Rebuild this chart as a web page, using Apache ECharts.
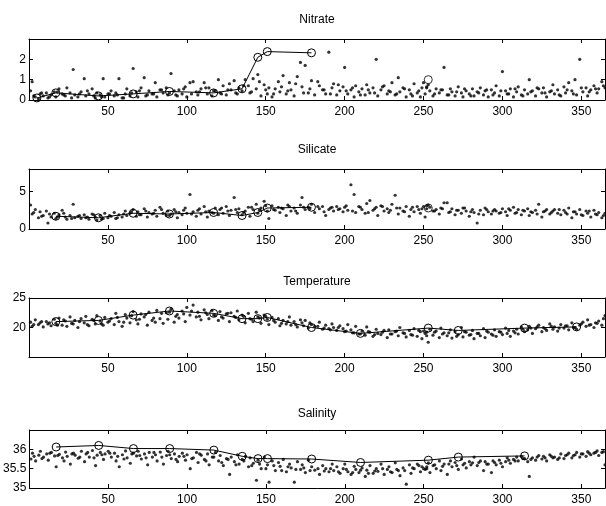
<!DOCTYPE html>
<html>
<head>
<meta charset="utf-8">
<script src="https://cdn.jsdelivr.net/npm/echarts@6/dist/echarts.min.js"></script>
<style>html,body{margin:0;padding:0;background:#fff}#c{width:606px;height:506px}</style>
</head>
<body>
<div id="c"></div>
<script>
// ---- data ----
const panelTitles = ['Nitrate', 'Silicate', 'Temperature', 'Salinity'];
const xTicks = [50, 100, 150, 200, 250, 300, 350];

// sampling days of the underway measurements (shared by all four panels)
const sampleDays = [
  1,2,4,6,7,9,11,12,14,16,
  17,19,21,23,24,26,28,29,31,33,
  35,36,38,40,42,43,45,47,48,50,
  52,54,55,57,59,61,62,64,66,68,
  69,71,73,75,76,78,80,81,83,85,
  87,88,90,92,94,95,97,99,100,102,
  104,106,107,109,111,113,114,116,118,120,
  121,123,125,127,128,130,132,133,135,137,
  139,140,142,144,145,147,149,151,152,154,
  156,158,159,161,163,165,166,168,170,172,
  173,175,177,179,181,184,186,188,190,192,
  193,195,197,199,200,202,204,206,207,209,
  211,213,214,216,218,220,221,223,225,227,
  228,230,232,234,235,237,239,241,242,244,
  246,248,249,251,253,254,256,258,260,261,
  263,265,267,268,270,272,274,275,277,279,
  281,282,284,286,288,289,291,293,295,296,
  298,300,302,303,305,307,309,310,312,314,
  316,317,319,321,323,325,326,328,330,332,
  333,335,337,339,340,342,344,346,347,349,
  351,353,354,356,358,360,361,363,365
];
// additional samples (second sampling pass)
const sampleDays2 = [
  3,8,13,18,22,27,32,37,41,46,
  51,56,60,65,70,74,79,84,89,93,
  98,103,108,112,117,122,126,131,136,141,
  146,150,155,160,164,169,174,178,183,187,
  191,196,201,205,210,215,219,224,229,233,
  238,243,247,252,257,262,266,271,276,280,
  285,290,294,299,304,308,313,318,322,327,
  331,336,341,345,350,355,359,364,250,252
];

const nitrateDots = [
  0.45,0.9,0.15,0.05,0.3,0.2,0.35,0.1,0.25,0.4,
  0.15,0.55,0.3,0.2,0.6,0.35,1.5,0.25,0.15,0.4,
  1.05,0.2,0.3,0.55,0.1,0.35,0.25,1.05,0.15,0.3,
  0.45,0.2,0.35,1.05,0.1,0.3,0.55,0.2,1.55,0.4,
  0.15,0.6,1.1,0.25,0.45,0.3,0.85,0.15,0.5,0.35,
  0.6,0.25,1.3,0.45,0.2,0.5,0.3,0.65,0.15,0.85,
  0.9,0.4,0.25,0.55,0.85,0.3,0.6,0.2,0.45,1.0,
  0.35,0.7,0.25,0.8,0.5,0.95,0.3,0.6,0.45,1.0,
  0.7,0.35,1.05,0.55,1.25,0.2,0.75,0.3,0.6,0.15,
  0.55,0.9,0.4,1.2,0.3,0.85,0.5,0.2,1.15,1.85,
  0.65,1.7,0.35,0.95,0.25,0.7,0.5,0.3,2.35,0.6,
  0.8,0.25,0.45,0.65,1.6,0.3,0.5,0.15,0.7,0.4,
  0.55,0.25,0.75,0.35,0.6,2.0,0.2,0.5,0.7,0.3,
  0.45,0.85,0.25,1.1,0.4,0.6,0.15,0.5,0.3,0.8,
  0.35,0.15,0.6,0.3,0.75,0.45,0.2,0.55,0.35,0.5,
  1.6,0.25,0.55,0.4,0.2,0.65,0.35,0.15,0.45,0.3,
  0.55,0.2,0.4,0.6,0.25,0.45,0.15,0.5,0.35,0.7,
  0.2,1.4,0.45,0.3,0.55,0.15,0.4,0.65,0.25,0.5,
  0.3,1.0,0.45,0.2,0.55,0.35,0.6,0.15,0.4,0.75,
  0.3,0.5,0.2,0.65,0.35,0.85,0.45,1.0,0.25,2.0,
  0.4,0.6,0.2,0.5,0.7,0.35,0.55,0.9,0.6
];
const nitrateDots2 = [
  0.2,0.35,0.15,0.4,0.25,0.1,0.3,0.45,0.2,0.15,
  0.3,0.25,0.1,0.35,0.45,0.2,0.3,0.5,0.35,0.25,
  0.55,0.3,0.4,0.6,0.45,0.3,0.5,0.35,0.7,0.4,
  0.9,0.5,0.3,0.65,0.45,0.8,0.35,0.55,0.9,0.5,
  0.3,0.75,0.45,0.6,0.25,0.5,0.35,0.65,0.4,0.3,
  0.55,0.2,0.45,0.65,0.3,0.5,0.25,0.4,0.55,0.2,
  0.35,0.5,0.25,0.45,0.3,0.55,0.2,0.4,0.6,0.35,
  0.45,0.25,0.5,0.3,0.6,0.4,0.55,0.7,0.85,0.6
];

const silicateDots = [
  3.2,2.0,2.6,1.5,2.3,1.8,2.4,0.8,1.6,2.1,
  1.4,1.9,2.5,1.6,1.3,1.8,3.3,1.5,1.7,1.4,
  1.9,1.5,1.3,2.0,1.6,1.2,1.8,1.4,2.1,1.5,
  1.7,2.2,1.4,1.9,1.6,2.4,1.8,2.1,2.6,1.7,
  2.3,1.9,2.7,1.6,2.2,2.0,2.5,1.7,2.9,2.1,
  1.8,2.4,2.0,2.6,1.5,2.2,1.9,2.8,2.1,4.6,
  2.3,1.7,2.5,2.0,3.0,1.6,2.4,2.2,2.8,1.9,
  2.6,2.1,3.0,1.8,2.5,4.2,2.2,2.7,1.9,2.4,
  2.9,1.7,2.6,3.3,2.1,2.8,3.7,2.4,1.4,3.1,
  2.5,2.9,2.2,2.7,1.8,3.0,2.4,2.8,2.1,3.2,
  4.2,2.6,2.9,3.3,2.2,2.7,3.0,1.8,2.6,2.9,
  2.4,3.0,2.7,2.3,2.9,2.5,5.9,4.6,2.2,3.0,
  2.6,2.1,3.4,3.8,2.5,2.9,1.8,3.1,2.4,2.7,
  2.2,3.3,4.5,2.0,2.8,2.4,3.0,1.7,2.6,2.3,
  3.0,2.1,2.7,1.6,3.2,2.9,2.4,2.6,2.0,2.8,
  3.5,3.5,2.3,2.7,1.9,2.5,2.1,2.8,2.4,1.7,
  2.6,2.2,0.8,2.5,1.9,2.8,2.3,2.0,2.6,2.4,
  2.1,2.7,2.3,1.8,2.5,2.9,2.2,2.6,1.9,2.4,
  2.7,1.8,2.2,2.5,3.3,1.6,2.3,2.6,2.0,2.4,
  2.6,2.1,1.9,2.5,2.2,2.8,1.5,2.3,2.0,2.6,
  1.8,2.4,2.1,1.6,2.5,1.9,2.2,1.5,2.1
];
const silicateDots2 = [
  2.2,1.7,2.0,1.6,2.1,1.4,1.8,1.6,1.9,1.3,
  1.8,1.5,2.0,2.3,1.9,2.4,2.1,2.6,1.8,2.3,
  2.5,2.0,2.7,2.3,2.1,2.8,2.4,2.6,2.2,2.9,
  2.5,3.1,2.6,2.8,3.2,2.4,2.9,2.7,3.0,2.3,
  2.8,2.6,3.1,2.4,2.9,2.2,2.7,3.0,2.5,2.8,
  2.3,2.9,2.6,3.1,2.4,2.7,2.2,2.5,2.8,2.3,
  2.0,2.6,2.4,2.2,2.7,2.1,2.5,2.3,2.0,2.4,
  2.2,2.6,2.0,2.3,1.9,2.4,2.0,1.8,3.0,2.7
];

const temperatureDots = [
  20.9,20.2,21.3,20.5,20.8,20.1,21.0,20.6,20.3,21.4,
  20.7,21.6,20.4,21.1,20.2,21.8,20.6,21.2,20.0,21.5,
  20.8,21.9,20.3,21.4,20.6,22.0,21.1,20.4,21.7,20.9,
  21.5,20.5,22.4,21.0,20.2,22.2,21.6,20.8,22.7,21.3,
  20.6,22.3,21.8,20.4,22.6,21.2,20.9,22.9,21.5,20.7,
  22.5,21.4,23.1,20.9,22.2,21.6,22.8,21.0,23.4,22.1,
  23.8,21.8,22.6,21.3,23.0,22.2,21.5,22.9,22.0,21.2,
  22.7,21.6,22.3,21.0,22.5,21.9,22.8,21.3,22.1,20.8,
  22.4,21.5,21.0,22.6,21.8,20.7,22.1,21.4,20.5,21.7,
  20.9,21.5,20.3,21.2,20.6,21.8,20.4,21.0,20.1,21.3,
  20.8,21.2,19.9,20.5,20.2,20.9,19.7,20.4,19.8,20.6,
  20.0,19.5,20.3,19.8,19.3,20.5,19.6,19.1,20.2,18.9,
  19.4,18.7,20.1,19.2,18.5,19.7,19.0,18.8,19.5,18.3,
  19.6,18.9,19.3,18.6,20.0,19.1,18.4,19.5,18.8,19.8,
  18.5,19.3,18.1,19.0,17.5,19.7,18.7,19.4,18.3,19.9,
  19.1,18.6,19.6,18.2,19.3,18.8,20.0,18.4,19.2,18.7,
  19.5,18.1,19.0,18.6,19.8,18.3,19.2,18.9,19.6,18.5,
  19.3,18.8,19.9,19.0,18.5,19.4,19.7,18.9,20.1,19.3,
  19.6,20.2,19.0,19.8,20.4,19.3,20.0,19.5,20.6,19.7,
  20.1,19.4,20.5,19.9,20.3,19.6,20.8,20.0,19.7,20.4,
  20.9,20.2,21.3,20.5,20.0,20.7,21.1,20.4,22.0
];
const temperatureDots2 = [
  20.5,21.0,20.8,20.4,21.3,20.7,21.0,20.5,21.2,20.6,
  21.1,21.7,20.9,22.0,21.4,22.2,21.6,22.4,22.6,21.9,
  22.3,22.8,21.9,22.5,22.1,21.8,22.4,21.7,21.9,21.4,
  21.6,21.9,21.2,20.7,21.0,20.5,20.3,20.8,20.2,19.9,
  19.6,20.0,19.4,19.1,18.9,19.3,18.8,19.2,18.9,19.4,
  19.0,18.7,19.5,18.6,19.2,18.9,19.1,18.5,19.3,18.8,
  19.0,19.4,18.7,19.2,19.5,19.1,19.7,19.9,20.1,19.8,
  20.2,19.9,20.3,20.0,20.6,20.4,20.8,21.5,19.4,19.2
];

const salinityDots = [
  35.75,35.90,35.70,35.85,35.95,35.80,35.88,35.72,35.92,35.83,
  35.55,35.87,35.78,35.93,35.82,35.62,35.90,35.85,35.77,35.95,
  35.68,35.88,35.80,35.97,35.58,35.85,35.92,35.74,35.88,35.95,
  35.80,35.90,35.70,35.55,35.86,35.96,35.78,35.64,35.90,35.83,
  35.95,35.75,35.88,35.60,35.92,35.80,35.86,35.70,35.93,35.62,
  35.84,35.95,35.76,35.88,35.68,35.82,35.90,35.72,35.86,35.50,
  35.78,35.92,35.66,35.85,35.74,35.88,35.60,35.80,35.92,35.70,
  35.84,35.58,35.76,35.35,35.80,35.68,35.86,35.62,35.74,35.82,
  35.55,35.78,35.64,35.20,35.72,35.50,35.80,35.60,35.15,35.70,
  35.45,35.66,35.56,35.74,35.42,35.62,35.52,35.15,35.68,35.48,
  35.60,35.40,35.72,35.55,35.46,35.35,35.58,35.50,35.42,35.62,
  35.45,35.55,35.38,35.50,35.62,35.42,35.35,35.56,35.48,35.40,
  35.52,35.30,35.46,35.58,35.38,35.50,35.43,35.62,35.35,35.48,
  35.55,35.40,35.65,35.45,35.32,35.52,35.10,35.60,35.38,35.50,
  35.62,35.42,35.55,35.48,35.65,35.40,35.58,35.50,35.70,35.45,
  35.62,35.35,35.70,35.55,35.66,35.48,35.75,35.60,35.52,35.68,
  35.65,35.80,35.58,35.70,35.45,35.68,35.62,35.40,35.66,35.60,
  35.72,35.55,35.68,35.78,35.64,35.74,35.80,35.70,35.82,35.76,
  35.68,35.30,35.78,35.72,35.84,35.75,35.82,35.70,35.86,35.78,
  35.80,35.74,35.88,35.76,35.84,35.90,35.78,35.86,35.92,35.80,
  35.88,35.82,35.94,35.86,35.90,35.96,35.84,35.92,35.60
];
const salinityDots2 = [
  35.82,35.76,35.90,35.84,35.70,35.88,35.80,35.92,35.78,35.86,
  35.90,35.82,35.75,35.88,35.84,35.78,35.92,35.80,35.86,35.74,
  35.82,35.76,35.88,35.70,35.80,35.66,35.74,35.60,35.70,35.58,
  35.62,35.50,35.58,35.45,35.55,35.48,35.52,35.45,35.50,35.44,
  35.50,35.42,35.48,35.40,35.46,35.38,35.44,35.50,35.42,35.48,
  35.45,35.52,35.58,35.50,35.60,35.56,35.62,35.58,35.64,35.60,
  35.66,35.62,35.70,35.64,35.72,35.70,35.76,35.74,35.80,35.78,
  35.82,35.78,35.86,35.84,35.88,35.90,35.92,35.94,35.50,35.55
];

// cruise station means (open circles joined by a line)
const nitrateCruiseDays = [5,17,44,66,89,117,135,145,151,179];
const nitrateCruise     = [0.1,0.35,0.2,0.3,0.42,0.35,0.55,2.1,2.38,2.32];
const nitrateExtraDays  = [253];
const nitrateExtra      = [1.0];

const silicateCruiseDays = [17,44,66,89,117,135,145,151,179];
const silicateCruise     = [1.7,1.5,2.1,2.0,2.2,1.8,2.2,2.8,2.9];
const silicateExtraDays  = [253];
const silicateExtra      = [2.8];

const temperatureCruiseDays = [17,44,66,89,117,135,145,151,179,210,253,272,314,347];
const temperatureCruise     = [21.0,21.2,22.1,22.8,22.4,21.5,21.5,21.7,20.0,19.0,19.9,19.5,19.9,20.1];

const salinityCruiseDays = [17,44,66,89,117,135,145,151,179,210,253,272,314];
const salinityCruise     = [36.06,36.1,36.02,36.02,35.98,35.82,35.76,35.76,35.75,35.66,35.72,35.8,35.83];

// y-axis settings per panel
const yRanges = [
  {min: 0, max: 3, interval: 1},
  {min: 0, max: 8, interval: 5},
  {min: 15, max: 25, interval: 5},
  {min: 35, max: 36.5, interval: 0.5}
];
const yHideMin = [false, false, true, false];
const yHideMax = [true, true, false, true];

// ---- layout ----
const gridTops = [39, 169, 298, 430];
const gridHeights = [61, 60, 59, 60];
const titleY = [20, 150, 282, 414];
const LEFT = 29, RIGHT = 1;
const FONT = 'Liberation Sans';

const pair = (xs, ys) => xs.map((x, i) => [x, ys[i]]);
const dotsByPanel = [
  pair(sampleDays, nitrateDots).concat(pair(sampleDays2, nitrateDots2)),
  pair(sampleDays, silicateDots).concat(pair(sampleDays2, silicateDots2)),
  pair(sampleDays, temperatureDots).concat(pair(sampleDays2, temperatureDots2)),
  pair(sampleDays, salinityDots).concat(pair(sampleDays2, salinityDots2))
];
const linesByPanel = [
  pair(nitrateCruiseDays, nitrateCruise),
  pair(silicateCruiseDays, silicateCruise),
  pair(temperatureCruiseDays, temperatureCruise),
  pair(salinityCruiseDays, salinityCruise)
];
const extrasByPanel = [
  pair(nitrateExtraDays, nitrateExtra),
  pair(silicateExtraDays, silicateExtra),
  [], []
];

const grids = [], xAxes = [], yAxes = [], series = [], graphics = [];

for (let p = 0; p < 4; p++) {
  grids.push({left: LEFT, right: RIGHT, top: gridTops[p], height: gridHeights[p], containLabel: false});
  const axisLine = {show: true, onZero: false, lineStyle: {color: '#000', width: 1}};
  const tick = {show: true, inside: true, length: 4, lineStyle: {color: '#000'}};
  xAxes.push({
    type: 'value', gridIndex: p, position: 'bottom', min: 0, max: 365, interval: 50,
    axisLine, axisTick: tick, splitLine: {show: false},
    axisLabel: {show: true, color: '#000', fontFamily: FONT, fontSize: 12, margin: 6,
      showMinLabel: false, showMaxLabel: false,
      formatter: v => xTicks.includes(v) ? String(v) : ''}
  });
  xAxes.push({
    type: 'value', gridIndex: p, position: 'top', min: 0, max: 365, interval: 50,
    axisLine, axisTick: tick, splitLine: {show: false}, axisLabel: {show: false}
  });
  const yr = yRanges[p];
  yAxes.push({
    type: 'value', gridIndex: p, position: 'left', min: yr.min, max: yr.max, interval: yr.interval,
    axisLine, axisTick: tick, splitLine: {show: false},
    axisLabel: {show: true, color: '#000', fontFamily: FONT, fontSize: 12, margin: 3,
      showMinLabel: !yHideMin[p], showMaxLabel: !yHideMax[p]}
  });
  yAxes.push({
    type: 'value', gridIndex: p, position: 'right', min: yr.min, max: yr.max, interval: yr.interval,
    axisLine, axisTick: tick, splitLine: {show: false}, axisLabel: {show: false}
  });

  series.push({
    type: 'scatter', xAxisIndex: 2 * p, yAxisIndex: 2 * p,
    data: dotsByPanel[p],
    symbol: 'circle', symbolSize: 3.2, itemStyle: {color: '#000'}, silent: true, z: 2
  });
  series.push({
    type: 'line', xAxisIndex: 2 * p, yAxisIndex: 2 * p,
    data: linesByPanel[p], symbol: 'circle', symbolSize: 8, showAllSymbol: true,
    lineStyle: {color: '#000', width: 1},
    itemStyle: {color: 'rgba(0,0,0,0)', borderColor: '#000', borderWidth: 1},
    silent: true, z: 3
  });
  if (extrasByPanel[p].length) {
    series.push({
      type: 'scatter', xAxisIndex: 2 * p, yAxisIndex: 2 * p,
      data: extrasByPanel[p], symbol: 'circle', symbolSize: 8,
      itemStyle: {color: 'rgba(0,0,0,0)', borderColor: '#000', borderWidth: 1},
      silent: true, z: 3
    });
  }
  graphics.push({
    type: 'text', x: LEFT + (606 - RIGHT - LEFT) / 2, y: titleY[p],
    style: {text: panelTitles[p], fill: '#000', font: '12px "Liberation Sans"',
      textAlign: 'center', textVerticalAlign: 'middle'}
  });
}

const chart = echarts.init(document.getElementById('c'), null, {renderer: 'canvas'});
chart.setOption({
  animation: false,
  backgroundColor: '#fff',
  grid: grids, xAxis: xAxes, yAxis: yAxes, series, graphic: graphics
});
</script>
</body>
</html>
